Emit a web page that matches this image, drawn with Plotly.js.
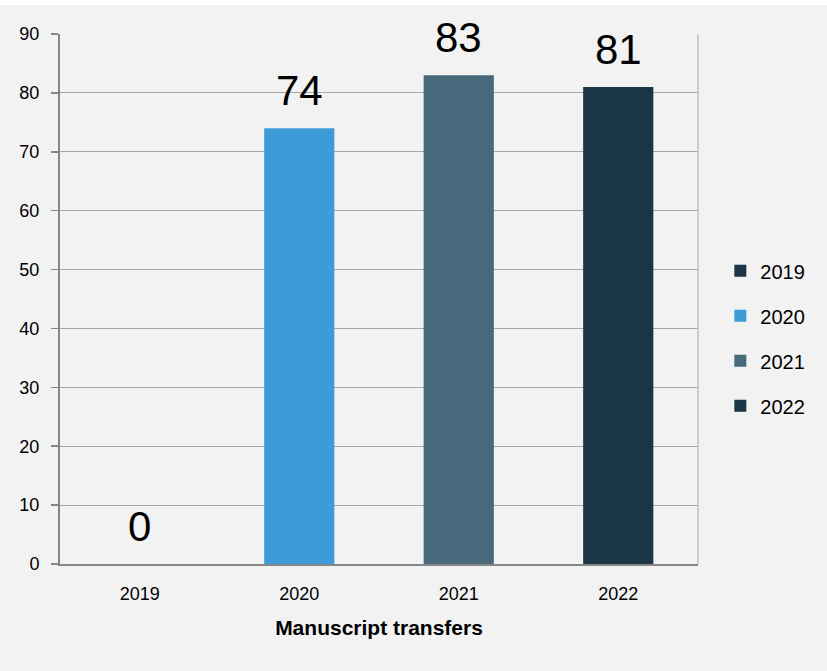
<!DOCTYPE html>
<html>
<head>
<meta charset="utf-8">
<script src="https://cdn.plot.ly/plotly-3.0.1.min.js"></script>
<style>
html,body{margin:0;padding:0;background:#ffffff;}
#chart{position:absolute;left:0;top:5px;width:827px;height:666px;}
</style>
</head>
<body>
<div id="chart"></div>
<script>
const categories = ['2019', '2020', '2021', '2022'];
const seriesNames = ['2019', '2020', '2021', '2022'];
const values = [0, 74, 83, 81];
const colors = ['#1b3644', '#3d9cd8', '#48687c', '#1b3644'];
const yTicks = [0, 10, 20, 30, 40, 50, 60, 70, 80, 90];
const xTitle = 'Manuscript transfers';

const font = "'Liberation Sans', Arial, sans-serif";

const traces = seriesNames.map((name, i) => ({
  type: 'bar',
  name: name,
  legendgroup: 'g' + i,
  x: categories,
  y: categories.map((c, j) => (j === i ? values[i] : null)),
  width: 0.44,
  marker: {color: colors[i]},
  hoverinfo: 'x+y'
}));

const annotations = categories.map((c, i) => ({
  x: i,
  y: values[i],
  xref: 'x',
  yref: 'y',
  text: String(values[i]),
  showarrow: false,
  yanchor: 'bottom',
  yshift: 12,
  font: {family: font, size: 42, color: '#000000'}
}));

const layout = {
  width: 827,
  height: 666,
  margin: {l: 60, r: 129, t: 29, b: 107},
  paper_bgcolor: '#f2f2f2',
  plot_bgcolor: '#f2f2f2',
  barmode: 'overlay',
  font: {family: font, size: 18, color: '#000000'},
  showlegend: true,
  legend: {
    x: 1.035, xanchor: 'left',
    y: 0.426, yanchor: 'middle',
    font: {family: font, size: 20, color: '#000000'},
    traceorder: 'grouped',
    tracegroupgap: 16,
    itemwidth: 30,
    bgcolor: 'rgba(0,0,0,0)'
  },
  xaxis: {
    type: 'category',
    range: [-0.5, 3.5],
    showline: true,
    linecolor: '#868686',
    linewidth: 2,
    ticks: '',
    showgrid: false,
    ticklabelstandoff: 12,
    tickfont: {family: font, size: 18, color: '#000000'},
    title: {text: xTitle, font: {family: font, size: 21, color: '#000000', weight: 'bold'}, standoff: 18},
    zeroline: false
  },
  yaxis: {
    range: [0, 90],
    tickvals: yTicks,
    ticktext: yTicks.map(String),
    showline: true,
    linecolor: '#868686',
    linewidth: 2,
    ticks: 'outside',
    ticklen: 7,
    tickwidth: 1.5,
    tickcolor: '#868686',
    showgrid: true,
    gridcolor: '#a6a6a6',
    gridwidth: 1,
    zeroline: false,
    ticklabelstandoff: 8,
    tickfont: {family: font, size: 18, color: '#000000'}
  },
  shapes: [{
    type: 'line', xref: 'paper', yref: 'paper',
    x0: 1, x1: 1, y0: 0, y1: 1,
    line: {color: '#bfbfbf', width: 1.5}
  }],
  annotations: annotations
};

Plotly.newPlot('chart', traces, layout, {displayModeBar: false, staticPlot: true});
</script>
</body>
</html>
